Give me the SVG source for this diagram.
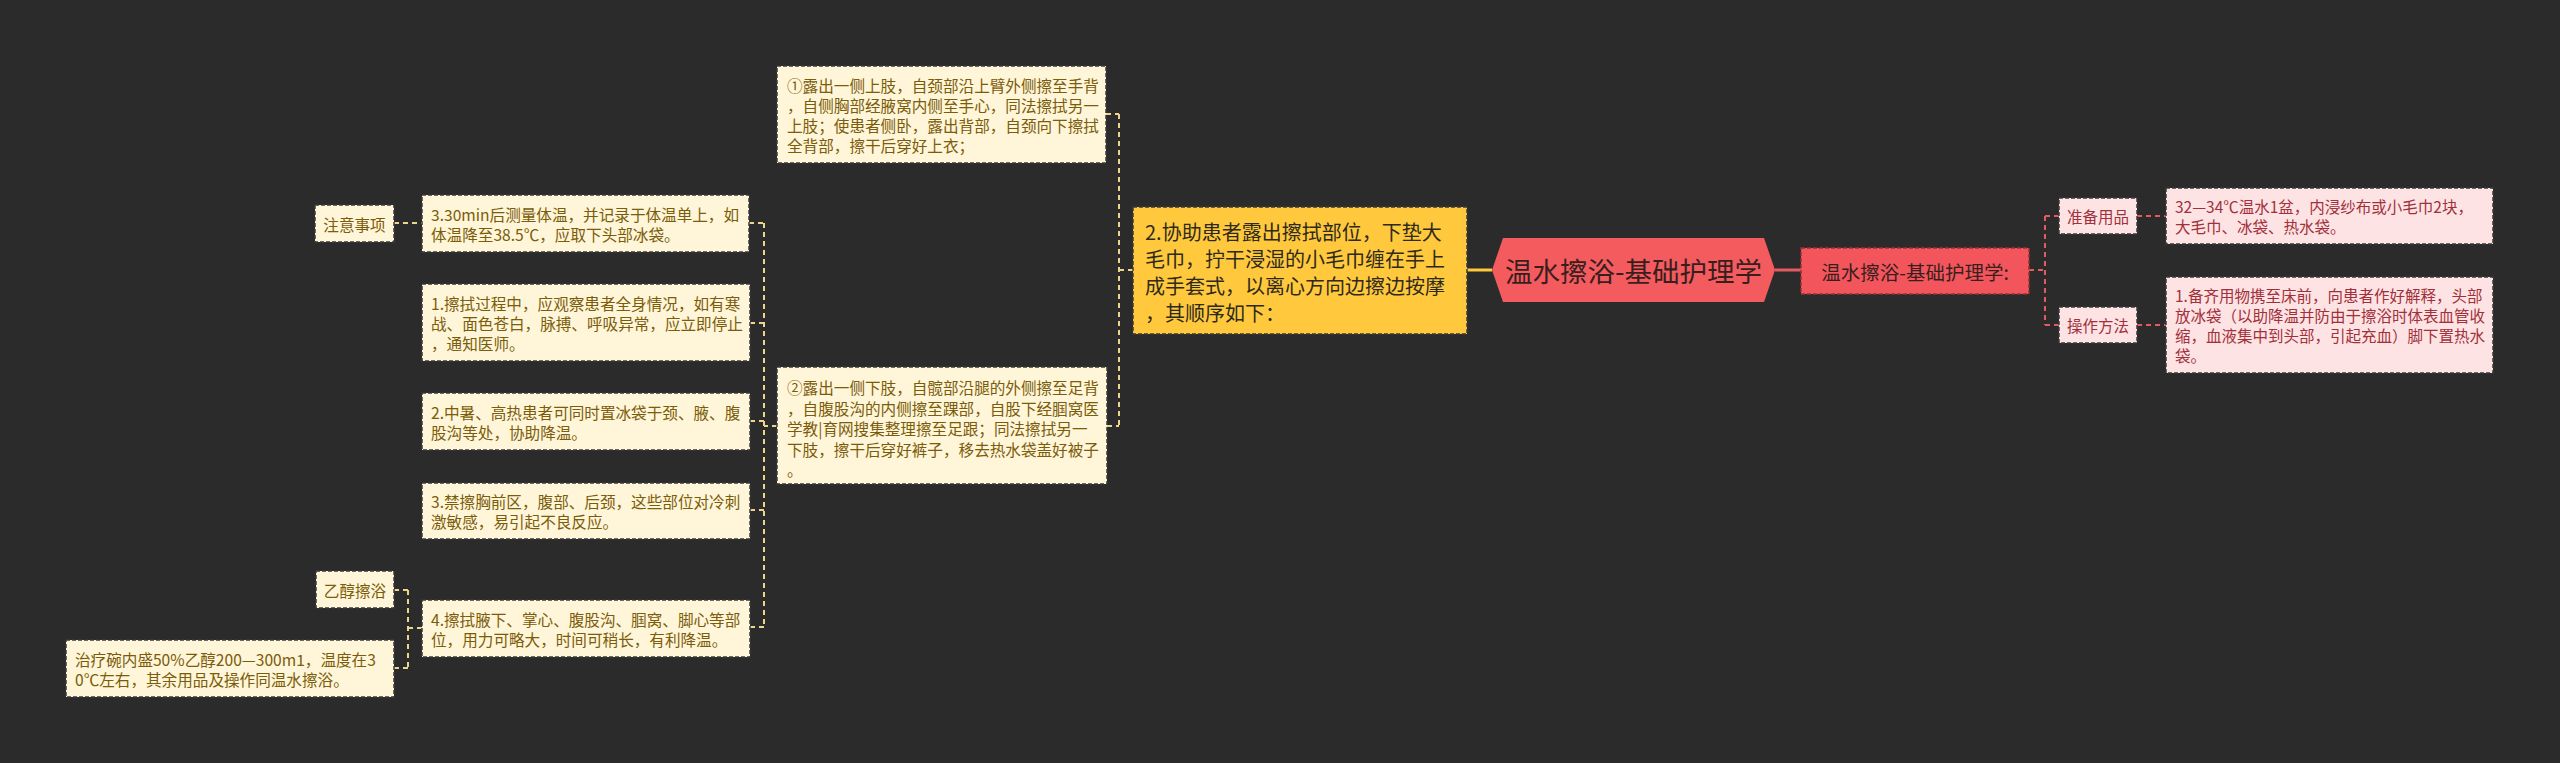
<svg xmlns="http://www.w3.org/2000/svg" width="2560" height="763" viewBox="0 0 2560 763">
<style>
text{font-family:"Noto Sans CJK SC","Noto Sans",sans-serif;dominant-baseline:central}
.bd{stroke:#3a3a3a;stroke-width:1.5;stroke-dasharray:4 2}
.cream{fill:#FFF5D8}
.ct{font-size:15.6px;fill:#7A5C0A}
.pink{fill:#FDE3E4}
.pt{font-size:15.5px;fill:#A2303A}
.cl{fill:none;stroke:#EED58E;stroke-width:2;stroke-dasharray:5 4}
.rl{fill:none;stroke:#E35A60;stroke-width:2;stroke-dasharray:5 4}
</style>
<rect x="0" y="0" width="2560" height="763" fill="#2B2B2B"/>
<g id="connectors">
<line x1="1467" y1="270" x2="1492" y2="270" stroke="#FFC83D" stroke-width="3"/>
<line x1="1775" y1="270" x2="1801" y2="270" stroke="#E35A60" stroke-width="3"/>
<path class="rl" d="M2029 270H2045M2045 216V325M2045 216H2059M2045 325H2059M2137 216H2166M2137 325H2166"/>
<path class="cl" d="M1133 270H1119M1119 114V426M1106 114H1119M1107 426H1119"/>
<path class="cl" d="M777 426H764M764 223V627M749 223H764M750 323H764M750 421H764M750 510H764M750 627H764"/>
<path class="cl" d="M394 223H422"/>
<path class="cl" d="M422 628H408M408 590V668M394 590H408M394 668H408"/>
</g>
<g id="root">
<polygon points="1492,270 1503,238 1764,238 1775,270 1764,302 1503,302" fill="#F45B5F"/>
<text x="1633.5" y="270" text-anchor="middle" font-size="27.5" fill="#3A1E1E">温水擦浴-基础护理学</text>
</g>
<g id="sub">
<rect x="1801" y="248" width="228" height="46" fill="#F2565C" stroke="#9A3035" stroke-width="1.5" stroke-dasharray="4 2"/>
<text x="1915" y="271" text-anchor="middle" font-size="19.5" fill="#3A1E1E">温水擦浴-基础护理学:</text>
</g>
<g id="zhunbei">
<rect class="pink bd" x="2059" y="198" width="78" height="36"/>
<text class="pt" x="2098" y="216" text-anchor="middle">准备用品</text>
</g>
<g id="caozuo">
<rect class="pink bd" x="2059" y="307" width="78" height="36"/>
<text class="pt" x="2098" y="325" text-anchor="middle">操作方法</text>
</g>
<g id="zhunbei-detail">
<rect class="pink bd" x="2166" y="188" width="327" height="56"/>
<text class="pt" x="2175" y="206">32—34℃温水1盆，内浸纱布或小毛巾2块，</text>
<text class="pt" x="2175" y="226">大毛巾、冰袋、热水袋。</text>
</g>
<g id="caozuo-detail">
<rect class="pink bd" x="2166" y="277" width="327" height="96"/>
<text class="pt" x="2175" y="295">1.备齐用物携至床前，向患者作好解释，头部</text>
<text class="pt" x="2175" y="315">放冰袋（以助降温并防由于擦浴时体表血管收</text>
<text class="pt" x="2175" y="335">缩，血液集中到头部，引起充血）脚下置热水</text>
<text class="pt" x="2175" y="355">袋。</text>
</g>
<g id="step2">
<rect x="1133" y="207" width="334" height="127" fill="#FFC83D" stroke="#3a3a3a" stroke-width="1.5" stroke-dasharray="4 2"/>
<text x="1145" y="231" font-size="20" fill="#2E2A1A">2.协助患者露出擦拭部位，下垫大</text>
<text x="1145" y="258" font-size="20" fill="#2E2A1A">毛巾，拧干浸湿的小毛巾缠在手上</text>
<text x="1145" y="285" font-size="20" fill="#2E2A1A">成手套式，以离心方向边擦边按摩</text>
<text x="1145" y="312" font-size="20" fill="#2E2A1A">，其顺序如下：</text>
</g>
<g id="upper-limb">
<rect class="cream bd" x="777" y="66" width="329" height="97"/>
<text class="ct" x="787" y="85">①露出一侧上肢，自颈部沿上臂外侧擦至手背</text>
<text class="ct" x="787" y="105">，自侧胸部经腋窝内侧至手心，同法擦拭另一</text>
<text class="ct" x="787" y="125">上肢；使患者侧卧，露出背部，自颈向下擦拭</text>
<text class="ct" x="787" y="145">全背部，擦干后穿好上衣；</text>
</g>
<g id="lower-limb">
<rect class="cream bd" x="777" y="367" width="330" height="117"/>
<text class="ct" x="787" y="387">②露出一侧下肢，自髋部沿腿的外侧擦至足背</text>
<text class="ct" x="787" y="407.5">，自腹股沟的内侧擦至踝部，自股下经腘窝医</text>
<text class="ct" x="787" y="428">学教|育网搜集整理擦至足跟；同法擦拭另一</text>
<text class="ct" x="787" y="448.5">下肢，擦干后穿好裤子，移去热水袋盖好被子</text>
<text class="ct" x="787" y="469">。</text>
</g>
<g id="note3">
<rect class="cream bd" x="422" y="195" width="327" height="57"/>
<text class="ct" x="431" y="213.5">3.30min后测量体温，并记录于体温单上，如</text>
<text class="ct" x="431" y="233.5">体温降至38.5℃，应取下头部冰袋。</text>
</g>
<g id="zhuyi">
<rect class="cream bd" x="315" y="205" width="79" height="37"/>
<text class="ct" x="354.5" y="223.5" text-anchor="middle">注意事项</text>
</g>
<g id="note1">
<rect class="cream bd" x="422" y="284" width="328" height="77"/>
<text class="ct" x="431" y="302.5">1.擦拭过程中，应观察患者全身情况，如有寒</text>
<text class="ct" x="431" y="322.5">战、面色苍白，脉搏、呼吸异常，应立即停止</text>
<text class="ct" x="431" y="342.5">，通知医师。</text>
</g>
<g id="note2">
<rect class="cream bd" x="422" y="393" width="328" height="57"/>
<text class="ct" x="431" y="411.5">2.中暑、高热患者可同时置冰袋于颈、腋、腹</text>
<text class="ct" x="431" y="431.5">股沟等处，协助降温。</text>
</g>
<g id="note3b">
<rect class="cream bd" x="422" y="483" width="328" height="56"/>
<text class="ct" x="431" y="501">3.禁擦胸前区，腹部、后颈，这些部位对冷刺</text>
<text class="ct" x="431" y="521">激敏感，易引起不良反应。</text>
</g>
<g id="note4">
<rect class="cream bd" x="422" y="600" width="328" height="57"/>
<text class="ct" x="431" y="618.5">4.擦拭腋下、掌心、腹股沟、腘窝、脚心等部</text>
<text class="ct" x="431" y="638.5">位，用力可略大，时间可稍长，有利降温。</text>
</g>
<g id="yichun">
<rect class="cream bd" x="316" y="571" width="78" height="37"/>
<text class="ct" x="355" y="589.5" text-anchor="middle">乙醇擦浴</text>
</g>
<g id="yichun-detail">
<rect class="cream bd" x="66" y="640" width="328" height="57"/>
<text class="ct" x="75" y="658.5">治疗碗内盛50%乙醇200—300m1，温度在3</text>
<text class="ct" x="75" y="678.5">0℃左右，其余用品及操作同温水擦浴。</text>
</g>
</svg>
